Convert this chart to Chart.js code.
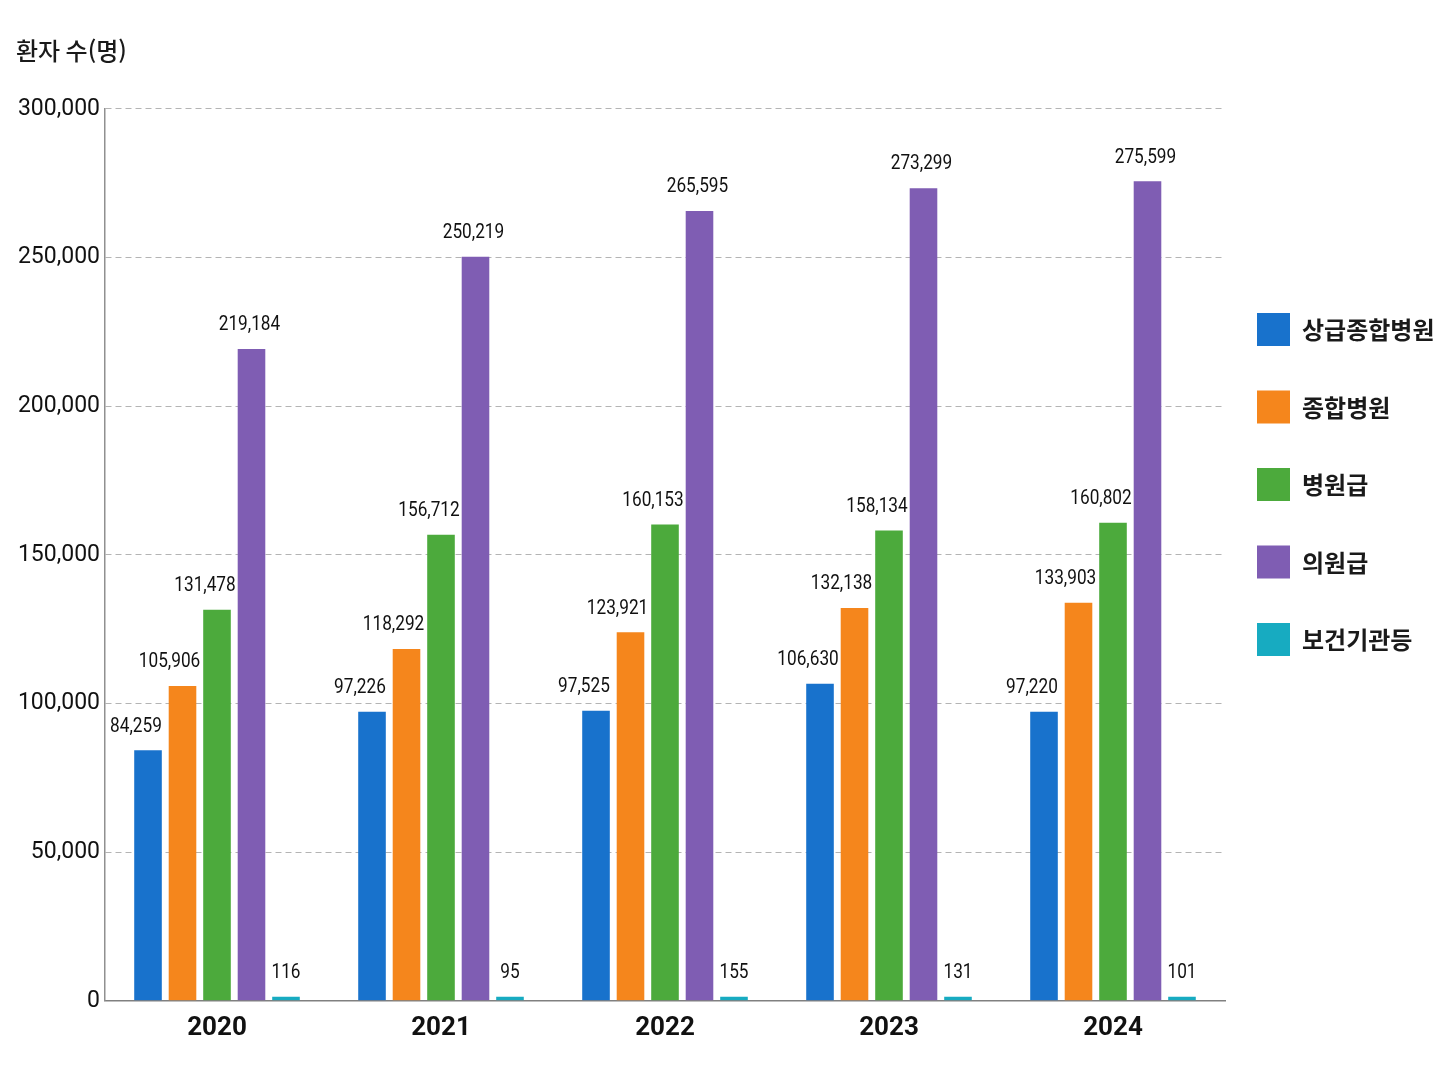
<!DOCTYPE html>
<html lang="ko">
<head>
<meta charset="utf-8">
<title>환자 수(명)</title>
<script src="https://cdn.jsdelivr.net/npm/chart.js@4.4.1/dist/chart.umd.min.js"></script>
<style>
  html, body { margin: 0; padding: 0; background: #ffffff; }
  #wrap { width: 1448px; height: 1086px; }
</style>
</head>
<body>
<div id="wrap"><canvas id="patientChart"></canvas></div>
<script>
// Data
const years = ['2020', '2021', '2022', '2023', '2024'];
const seriesNames = ['상급종합병원', '종합병원', '병원급', '의원급', '보건기관등'];
const tertiary = [84259, 97226, 97525, 106630, 97220];
const general = [105906, 118292, 123921, 132138, 133903];
const hospital = [131478, 156712, 160153, 158134, 160802];
const clinic = [219184, 250219, 265595, 273299, 275599];
const publicHealth = [116, 95, 155, 131, 101];
const yTicks = [0, 50000, 100000, 150000, 200000, 250000, 300000];

const colors = ['#1872cc', '#f5861c', '#4caa3c', '#7f5db3', '#17abc1'];
const numFont = 'Roboto, "Liberation Sans", sans-serif';
const krFont = '"Noto Sans CJK KR", "Noto Sans", sans-serif';

// Values above the bars, squeezed a bit to look like a condensed face
const valueLabels = {
    id: 'valueLabels',
    afterDatasetsDraw(chart) {
        const ctx = chart.ctx;
        const shift = [-12, -13, -12, -2, 0];
        ctx.save();
        ctx.font = '21px ' + numFont;
        ctx.fillStyle = '#111111';
        ctx.textAlign = 'center';
        ctx.textBaseline = 'middle';
        chart.data.datasets.forEach((ds, i) => {
            chart.getDatasetMeta(i).data.forEach((bar, j) => {
                ctx.save();
                ctx.translate(bar.x + shift[i], bar.y - 24);
                ctx.scale(0.82, 1);
                ctx.fillText(ds.data[j].toLocaleString('en-US'), 0, 0);
                ctx.restore();
            });
        });
        ctx.restore();
    }
};

// Legend on the right side, drawn by hand so spacing matches
const sideLegend = {
    id: 'sideLegend',
    afterDraw(chart) {
        const ctx = chart.ctx;
        ctx.save();
        ctx.font = 'bold 24px ' + krFont;
        ctx.textBaseline = 'middle';
        ctx.textAlign = 'left';
        chart.data.datasets.forEach((ds, i) => {
            const top = 313 + i * 77.5;
            ctx.fillStyle = ds.backgroundColor;
            ctx.fillRect(1257, top, 33, 33);
            ctx.fillStyle = '#1a1a1a';
            ctx.fillText(ds.label, 1302, top + 17);
        });
        ctx.restore();
    }
};

const seriesData = [tertiary, general, hospital, clinic, publicHealth];

new Chart(document.getElementById('patientChart'), {
    type: 'bar',
    data: {
        labels: years,
        datasets: seriesNames.map((name, i) => ({
            label: name,
            data: seriesData[i],
            backgroundColor: colors[i],
            borderWidth: 0,
            minBarLength: i === 4 ? 4 : 0,
            categoryPercentage: 0.77,
            barPercentage: 0.8
        }))
    },
    options: {
        responsive: true,
        maintainAspectRatio: false,
        animation: false,
        layout: {
            padding: { left: 16, right: 223, top: 0, bottom: 30 }
        },
        plugins: {
            legend: { display: false },
            tooltip: { enabled: false },
            title: {
                display: true,
                text: '환자 수(명)',
                align: 'start',
                color: '#1a1a1a',
                font: { family: krFont, size: 24, weight: '500' },
                padding: { top: 36, bottom: 44 }
            }
        },
        scales: {
            x: {
                grid: { display: false, drawTicks: false },
                border: { display: true, color: '#808080', width: 1.5 },
                ticks: {
                    color: '#111111',
                    padding: 12,
                    font: { family: numFont, size: 26, weight: 'bold' }
                }
            },
            y: {
                min: 0,
                max: 300000,
                afterFit(scale) { scale.width = 89; },
                afterBuildTicks(scale) { scale.ticks = yTicks.map(v => ({ value: v })); },
                grid: { color: '#b4b4b4', lineWidth: 1, drawTicks: false },
                border: { display: true, color: '#909090', width: 1.5, dash: [6, 4] },
                ticks: {
                    color: '#111111',
                    padding: 5,
                    font: { family: numFont, size: 23 },
                    callback: v => v.toLocaleString('en-US')
                }
            }
        }
    },
    plugins: [valueLabels, sideLegend]
});
</script>
</body>
</html>
